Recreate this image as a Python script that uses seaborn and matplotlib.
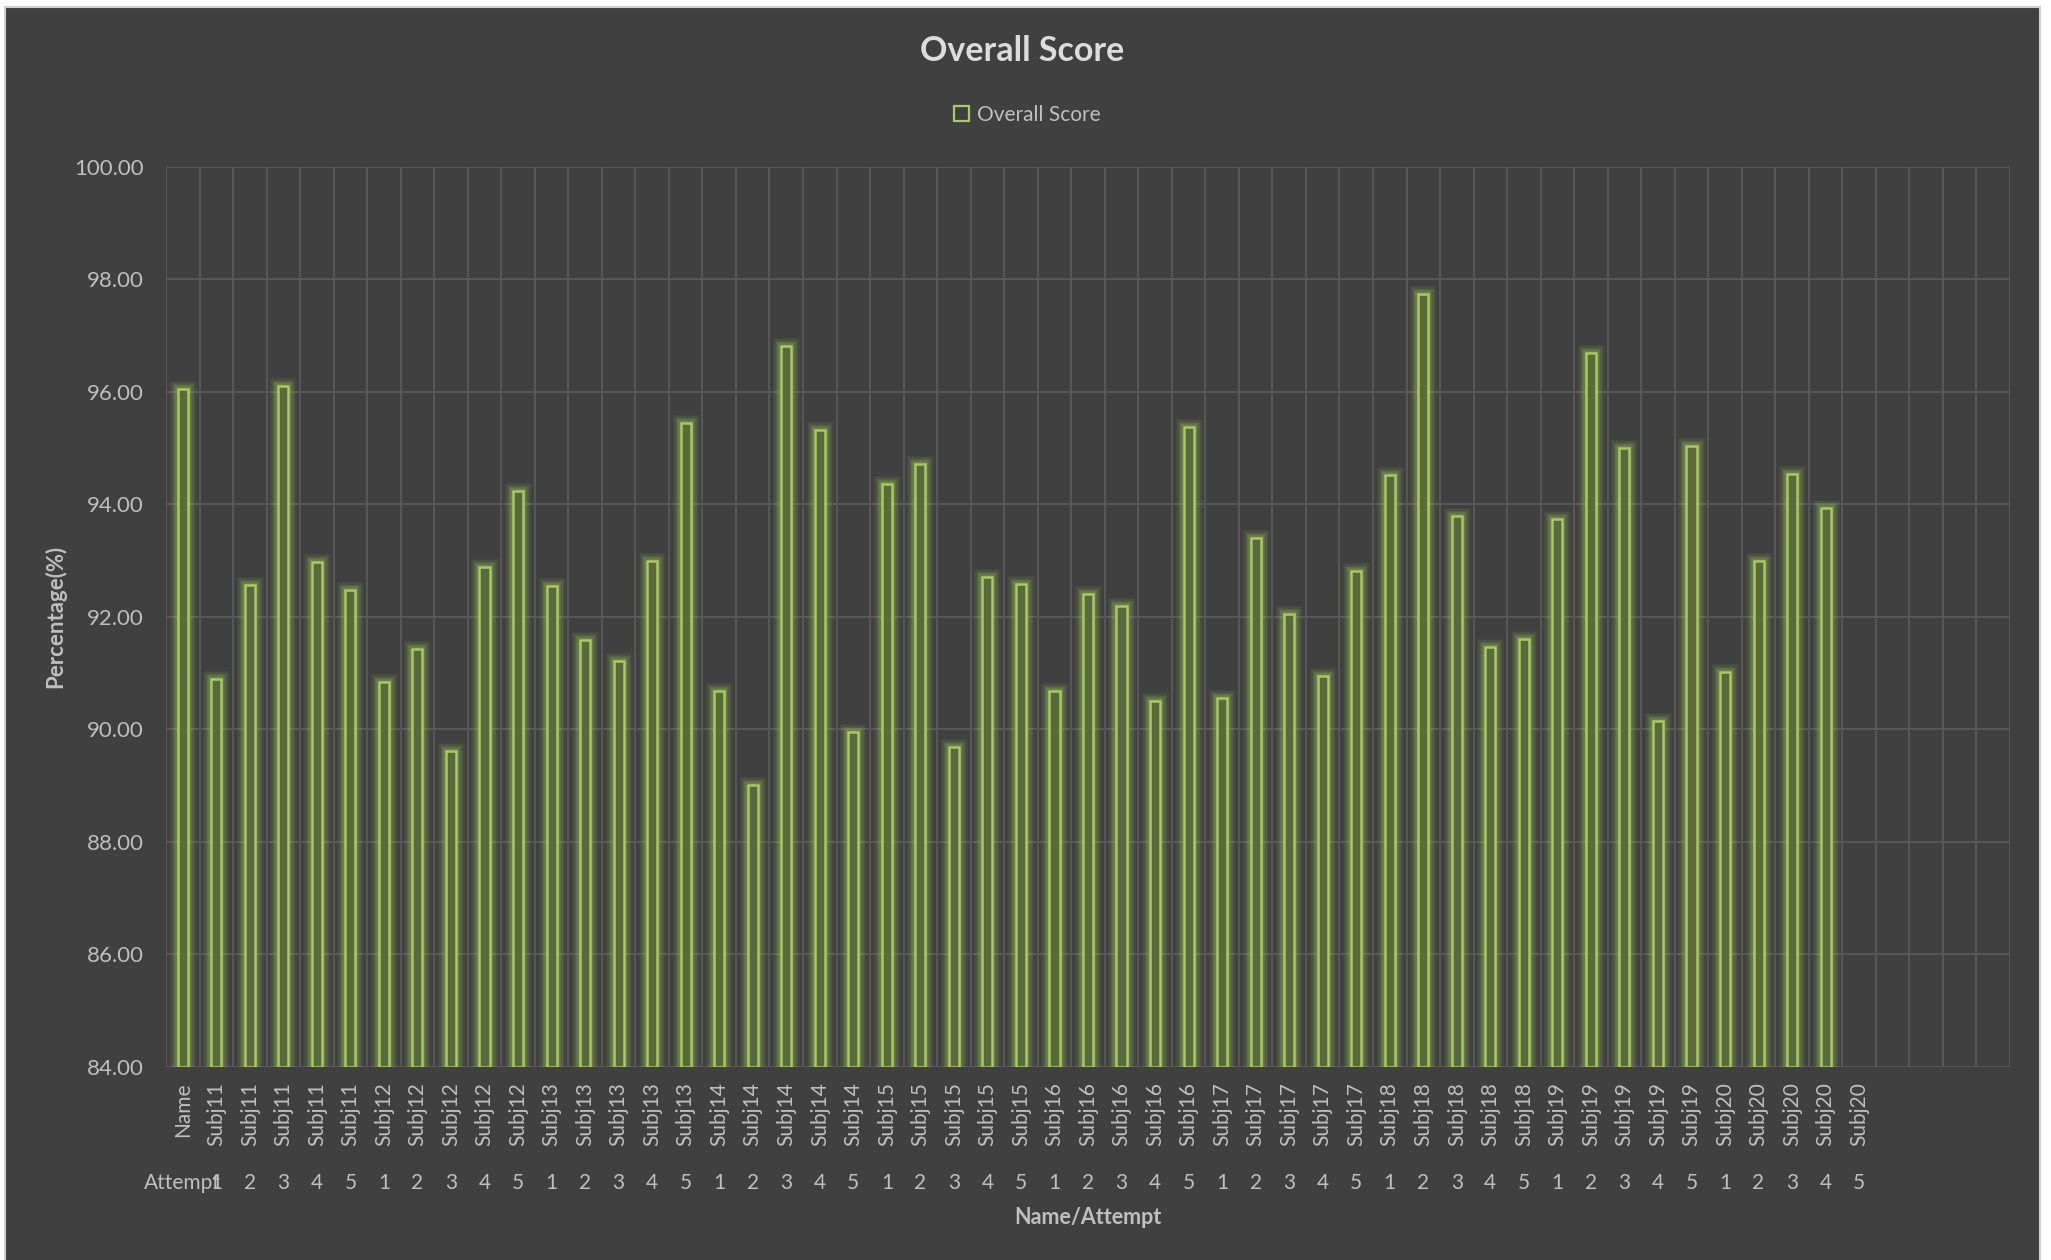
import numpy as np
import pandas as pd
import matplotlib
matplotlib.use("Agg")
import matplotlib.pyplot as plt
import matplotlib.transforms as mtransforms
from matplotlib import patheffects as pe
from matplotlib.patches import Patch, Rectangle
import seaborn as sns

# ---------------- data ----------------
first_label = "Name"
first_attempt_label = "Attempt"
first_score = 96.05
subject_names = ["Subj11", "Subj12", "Subj13", "Subj14", "Subj15",
                 "Subj16", "Subj17", "Subj18", "Subj19", "Subj20"]
attempt_labels = ["1", "2", "3", "4", "5"]
subject_scores = [
    [90.90, 92.57, 96.10, 92.98, 92.47],   # Subj11
    [90.84, 91.42, 89.61, 92.88, 94.23],   # Subj12
    [92.55, 91.58, 91.21, 93.00, 95.45],   # Subj13
    [90.68, 89.01, 96.82, 95.32, 89.95],   # Subj14
    [94.36, 94.71, 89.68, 92.70, 92.58],   # Subj15
    [90.69, 92.40, 92.20, 90.50, 95.37],   # Subj16
    [90.55, 93.40, 92.05, 90.95, 92.82],   # Subj17
    [94.52, 97.74, 93.80, 91.47, 91.60],   # Subj18
    [93.74, 96.69, 95.00, 90.15, 95.03],   # Subj19
    [91.02, 92.99, 94.54, 93.94, np.nan],  # Subj20
]
n_empty_slots = 4
y_ticks = [84, 86, 88, 90, 92, 94, 96, 98, 100]

# build categories
top_labels = [first_label]
bottom_labels = [first_attempt_label]
scores = [first_score]
for name, row in zip(subject_names, subject_scores):
    for att, v in zip(attempt_labels, row):
        top_labels.append(name)
        bottom_labels.append(att)
        scores.append(v)
for _ in range(n_empty_slots):
    top_labels.append("")
    bottom_labels.append("")
    scores.append(np.nan)
n = len(scores)
df = pd.DataFrame({"slot": list(range(n)), "score": scores})

# ---------------- style ----------------
BG = "#404040"
GRID = "#5a5a5a"
TXT = "#bfbfbf"
TITLE = "#dcdcdc"
GREEN = "#a5cc5c"
FACE = "#5a6a3e"

sns.set_theme(style="dark")
plt.rcParams["font.family"] = ["Lato", "DejaVu Sans"]

W, H = 2051, 1260
fig = plt.figure(figsize=(W / 100, H / 100), dpi=100, facecolor="white")
fig.patches.append(Rectangle((5 / W, -0.02), 2035 / W, 1.02 - 7 / H,
                             transform=fig.transFigure, facecolor=BG,
                             edgecolor="#cfcfcf", lw=1.5, zorder=-10))

L, R, T, B = 166, 2010, 166.7, 1067
ax = fig.add_axes([L / W, 1 - B / H, (R - L) / W, (B - T) / H])
ax.set_facecolor(BG)

sns.barplot(data=df, x="slot", y="score", order=list(range(n)), width=0.3,
            color=GREEN, errorbar=None, ax=ax)

YMIN, YMAX = y_ticks[0], y_ticks[-1]
glow = [pe.Stroke(linewidth=lw, foreground=GREEN, alpha=a)
        for lw, a in [(12, 0.06), (10, 0.08), (8, 0.10), (6, 0.13), (4, 0.18)]]
glow.append(pe.Normal())
for p in ax.patches:
    h = p.get_height()
    if np.isnan(h):
        continue
    p.set_y(YMIN)
    p.set_height(h - YMIN)
    p.set_facecolor(FACE)
    p.set_edgecolor(GREEN)
    p.set_linewidth(1.8)
    p.set_path_effects(glow)
    p.set_zorder(3)

ax.set_ylim(YMIN, YMAX)
ax.set_xlim(-0.5, n - 0.5)
ax.set_yticks(y_ticks)
ax.set_yticklabels([f"{v:.2f}" for v in y_ticks])
ax.set_xticks(range(n))
ax.set_xticklabels(top_labels, rotation=90)
ax.set_xticks(np.arange(-0.5, n, 1), minor=True)

for s in ax.spines.values():
    s.set_visible(False)
ax.grid(False)
ax.grid(True, which="major", axis="y", color=GRID, lw=1.3, zorder=0)
ax.grid(True, which="minor", axis="x", color=GRID, lw=1.3, zorder=0)
ax.set_axisbelow(True)
ax.tick_params(axis="x", which="both", length=0, pad=11, labelsize=15, labelcolor=TXT)
ax.tick_params(axis="y", which="both", length=0, pad=16, labelsize=16, labelcolor=TXT)

# second-level category labels
trans = mtransforms.blended_transform_factory(ax.transData, ax.transAxes)
ypix = (B - 1183) / (B - T)
for i, lab in enumerate(bottom_labels):
    if lab:
        ax.text(i, ypix, lab, transform=trans, ha="center", va="center",
                fontsize=15, color=TXT)

ax.set_xlabel("Name/Attempt", fontsize=15.5, fontweight="bold", color=TXT)
ax.xaxis.set_label_coords(0.5, (B - 1218) / (B - T))
ax.xaxis.label.set_va("center")
ax.set_ylabel("Percentage(%)", fontsize=16, fontweight="bold", color=TXT)
ax.yaxis.set_label_coords((55 - L) / (R - L), 0.5)
ax.yaxis.label.set_va("center")

fig.text(1022 / W, 1 - 51 / H, "Overall Score", ha="center", va="center",
         fontsize=24.5, fontweight="bold", color=TITLE)

fig.legend(handles=[Patch(facecolor="none", edgecolor=GREEN, lw=1.6)],
           labels=["Overall Score"], loc="center",
           bbox_to_anchor=(1027 / W, 1 - 115 / H), frameon=False,
           handlelength=0.75, handleheight=0.75, handletextpad=0.35,
           fontsize=15, labelcolor=TXT)

fig.savefig("out.png", dpi=100, facecolor=fig.get_facecolor())
